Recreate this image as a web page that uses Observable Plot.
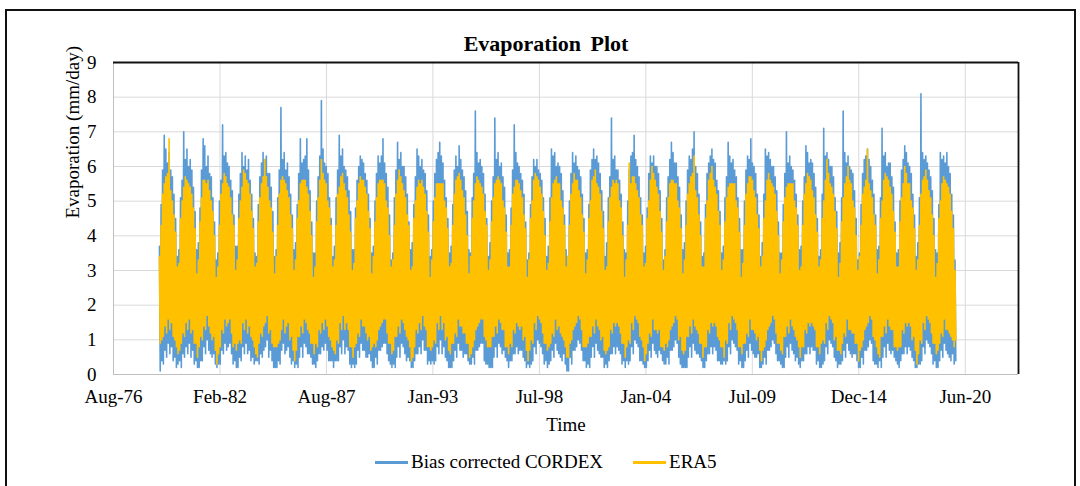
<!DOCTYPE html>
<html>
<head>
<meta charset="utf-8">
<script src="https://cdn.jsdelivr.net/npm/d3@7"></script>
<script src="https://cdn.jsdelivr.net/npm/@observablehq/plot@0.6"></script>
<style>
  body { margin: 0; background: #fff; }
  #frame { position: relative; width: 1080px; height: 486px; overflow: hidden; background: #fff;
           font-family: "Liberation Serif", "Times New Roman", serif; color: #000; }
  #chart { position: absolute; left: 0; top: 0; }
  #border { position: absolute; left: 5px; top: 9px; width: 1071px; height: 500px;
            border: 2.5px solid #111; box-sizing: border-box; pointer-events: none; }
  #title { position: absolute; left: 396px; width: 300px; top: 31px; line-height: 26px;
           text-align: center; font-weight: bold; font-size: 22px; word-spacing: 4px; }
  #legend { position: absolute; left: 375px; top: 450px; height: 24px; display: flex;
            align-items: center; font-size: 19px; }
  .sw { display: inline-block; width: 33px; height: 3px; margin-right: 3px; }
  .item { display: flex; align-items: center; margin-right: 30px; }
</style>
</head>
<body>
<div id="frame">
  <div id="chart"></div>
  <div id="title">Evaporation Plot</div>
  <div id="legend">
    <div class="item"><span class="sw" style="background:#5B9BD5"></span>Bias corrected CORDEX</div>
    <div class="item"><span class="sw" style="background:#FFC000"></span>ERA5</div>
  </div>
  <div id="border"></div>
</div>
<script>
// Daily evaporation summarised per month: highest and lowest day of each month,
// one row per year from 1979 to 2019 (Jan..Dec), in mm/day.
const startYear = 1979;

const cordexHigh = [
  3.7, 4.9, 5.9, 6.9, 6.5, 6.1, 6.4, 5.9, 5.7, 5.2, 4.5, 3.4, // 1979
  3.6, 5.1, 5.6, 7.0, 6.2, 6.5, 6.0, 6.2, 5.9, 5.4, 4.7, 3.6, // 1980
  3.8, 4.8, 5.9, 6.8, 6.6, 6.0, 6.3, 5.8, 5.7, 5.1, 4.4, 3.3, // 1981
  3.5, 5.0, 5.6, 7.2, 6.3, 6.4, 6.1, 6.0, 5.6, 5.3, 4.6, 3.7, // 1982
  3.7, 5.2, 5.8, 6.4, 6.0, 6.3, 5.9, 6.2, 5.6, 5.2, 4.5, 3.5, // 1983
  3.4, 4.9, 5.7, 6.1, 6.4, 6.2, 6.3, 5.8, 5.8, 5.4, 4.7, 3.4, // 1984
  3.6, 5.1, 5.9, 7.7, 6.2, 6.4, 5.9, 6.1, 5.7, 5.2, 4.6, 3.6, // 1985
  3.8, 4.9, 5.8, 6.8, 6.1, 6.2, 6.3, 6.8, 5.9, 5.3, 4.4, 3.5, // 1986
  3.5, 5.0, 5.7, 6.3, 7.9, 6.5, 6.1, 6.0, 5.8, 5.1, 4.5, 3.4, // 1987
  3.7, 5.1, 5.9, 6.9, 6.3, 6.5, 6.0, 5.9, 5.7, 5.3, 4.7, 3.6, // 1988
  3.6, 4.8, 5.6, 6.0, 6.3, 6.2, 6.1, 5.8, 5.6, 5.2, 4.5, 3.5, // 1989
  3.7, 5.0, 5.8, 6.3, 6.1, 6.3, 6.8, 6.1, 5.8, 5.4, 4.6, 3.3, // 1990
  3.5, 5.1, 5.9, 6.7, 6.2, 6.4, 6.0, 6.0, 5.7, 5.2, 4.4, 3.6, // 1991
  3.8, 4.9, 5.7, 6.5, 6.3, 6.0, 6.2, 5.9, 5.8, 5.3, 4.6, 3.4, // 1992
  3.6, 5.0, 5.8, 6.2, 6.4, 6.7, 6.3, 6.1, 5.6, 5.1, 4.5, 3.5, // 1993
  3.7, 4.9, 5.9, 6.3, 6.0, 6.6, 6.2, 5.9, 5.7, 5.3, 4.7, 3.6, // 1994
  3.5, 5.1, 5.8, 7.6, 6.4, 6.1, 6.2, 6.0, 5.8, 5.2, 4.5, 3.4, // 1995
  3.8, 5.0, 5.7, 7.4, 6.2, 6.4, 6.0, 6.1, 5.7, 5.4, 4.6, 3.5, // 1996
  3.6, 4.8, 5.9, 7.2, 6.4, 6.1, 6.0, 5.8, 5.6, 5.2, 4.4, 3.3, // 1997
  3.5, 4.9, 5.7, 6.2, 6.0, 6.2, 5.9, 5.8, 5.6, 5.1, 4.5, 3.4, // 1998
  3.7, 5.1, 6.5, 6.3, 6.4, 6.0, 6.1, 6.0, 5.8, 5.3, 4.6, 3.6, // 1999
  3.4, 5.0, 5.8, 6.4, 6.1, 6.3, 6.0, 5.9, 5.7, 5.2, 4.5, 3.5, // 2000
  3.6, 4.9, 5.9, 6.2, 6.5, 6.2, 6.3, 6.1, 5.8, 5.3, 4.7, 3.4, // 2001
  3.8, 5.1, 5.7, 7.4, 6.2, 6.3, 5.9, 5.9, 5.6, 5.2, 4.4, 3.6, // 2002
  3.5, 5.0, 5.9, 6.3, 6.4, 6.9, 6.2, 6.0, 5.7, 5.1, 4.6, 3.5, // 2003
  3.7, 4.8, 5.8, 6.3, 6.1, 6.3, 6.0, 6.0, 5.8, 5.3, 4.5, 3.3, // 2004
  3.6, 5.1, 5.7, 6.2, 6.7, 6.4, 6.1, 6.1, 5.7, 5.4, 4.6, 3.6, // 2005
  3.8, 5.0, 5.9, 6.3, 6.2, 6.5, 7.0, 6.0, 5.8, 5.2, 4.4, 3.4, // 2006
  3.5, 4.9, 5.8, 6.1, 6.3, 6.5, 6.2, 6.1, 5.6, 5.3, 4.7, 3.5, // 2007
  3.7, 5.1, 5.7, 6.7, 6.3, 6.1, 6.2, 5.9, 5.7, 5.1, 4.5, 3.6, // 2008
  3.6, 5.0, 5.9, 6.3, 6.2, 6.8, 6.1, 6.0, 5.8, 5.2, 4.6, 3.4, // 2009
  3.8, 5.2, 6.5, 6.3, 6.4, 6.2, 6.0, 6.0, 5.7, 5.3, 4.4, 3.5, // 2010
  3.5, 4.9, 5.8, 7.0, 6.1, 6.3, 6.0, 5.9, 5.6, 5.2, 4.6, 3.6, // 2011
  3.7, 5.0, 5.7, 6.6, 6.4, 6.1, 6.2, 6.1, 5.8, 5.4, 4.5, 3.4, // 2012
  3.6, 5.2, 7.1, 6.3, 6.4, 6.2, 6.0, 6.0, 5.7, 5.1, 4.7, 3.5, // 2013
  3.8, 5.1, 7.6, 6.4, 6.1, 6.3, 6.0, 5.9, 5.8, 5.3, 4.5, 3.3, // 2014
  3.5, 4.9, 5.8, 6.2, 6.3, 6.5, 6.2, 6.0, 5.6, 5.2, 4.6, 3.6, // 2015
  3.7, 5.1, 7.1, 6.3, 6.4, 6.0, 6.1, 6.1, 5.7, 5.4, 4.4, 3.5, // 2016
  3.6, 5.0, 5.9, 6.2, 6.6, 6.4, 6.1, 6.0, 5.8, 5.2, 4.6, 3.4, // 2017
  3.8, 5.1, 8.1, 6.4, 6.2, 6.3, 6.1, 5.9, 5.7, 5.3, 4.5, 3.6, // 2018
  3.5, 4.9, 6.4, 6.2, 6.3, 6.1, 6.4, 6.0, 5.8, 5.2, 4.6, 3.3  // 2019
];

const cordexLow = [
  0.1, 0.4, 0.3, 0.7, 0.5, 0.9, 0.6, 0.8, 0.4, 0.5, 0.2, 0.3, // 1979
  0.4, 0.2, 0.6, 0.5, 0.8, 0.6, 0.9, 0.5, 0.7, 0.3, 0.4, 0.2, // 1980
  0.2, 0.4, 0.4, 0.8, 0.6, 1.0, 0.7, 0.6, 0.5, 0.6, 0.3, 0.2, // 1981
  0.3, 0.3, 0.7, 0.6, 0.9, 0.7, 0.8, 0.9, 0.6, 0.3, 0.4, 0.2, // 1982
  0.2, 0.5, 0.4, 0.8, 0.6, 0.9, 0.6, 0.7, 0.4, 0.5, 0.3, 0.4, // 1983
  0.4, 0.3, 0.6, 0.5, 0.7, 0.8, 1.0, 0.5, 0.7, 0.4, 0.2, 0.2, // 1984
  0.2, 0.4, 0.3, 0.7, 0.9, 0.6, 0.7, 0.8, 0.5, 0.3, 0.4, 0.2, // 1985
  0.3, 0.2, 0.5, 0.8, 0.5, 0.9, 0.8, 0.6, 0.6, 0.5, 0.3, 0.3, // 1986
  0.2, 0.4, 0.6, 0.6, 0.8, 0.7, 0.9, 0.7, 0.4, 0.4, 0.4, 0.2, // 1987
  0.4, 0.4, 0.4, 0.8, 0.6, 1.0, 0.6, 0.8, 0.7, 0.3, 0.2, 0.3, // 1988
  0.2, 0.3, 0.7, 0.5, 0.9, 0.7, 0.7, 0.5, 0.5, 0.6, 0.4, 0.2, // 1989
  0.2, 0.5, 0.3, 0.7, 0.7, 0.8, 0.9, 0.9, 0.6, 0.4, 0.3, 0.2, // 1990
  0.3, 0.2, 0.5, 0.8, 0.5, 0.9, 0.8, 0.6, 0.4, 0.5, 0.4, 0.2, // 1991
  0.2, 0.4, 0.6, 0.6, 0.8, 0.6, 1.0, 0.7, 0.7, 0.3, 0.4, 0.3, // 1992
  0.4, 0.3, 0.4, 0.8, 0.6, 1.0, 0.6, 0.8, 0.5, 0.4, 0.2, 0.2, // 1993
  0.2, 0.4, 0.7, 0.5, 0.9, 0.7, 0.7, 0.5, 0.6, 0.6, 0.4, 0.3, // 1994
  0.3, 0.5, 0.3, 0.7, 0.7, 0.8, 0.9, 0.9, 0.4, 0.3, 0.3, 0.2, // 1995
  0.2, 0.2, 0.5, 0.8, 0.5, 0.9, 0.8, 0.6, 0.7, 0.5, 0.4, 0.2, // 1996
  0.4, 0.4, 0.6, 0.6, 0.8, 0.6, 0.7, 0.7, 0.5, 0.4, 0.2, 0.3, // 1997
  0.2, 0.3, 0.4, 0.8, 0.6, 1.0, 0.9, 0.8, 0.6, 0.3, 0.4, 0.2, // 1998
  0.3, 0.4, 0.7, 0.5, 0.9, 0.7, 0.6, 0.5, 0.4, 0.6, 0.3, 0.1, // 1999
  0.1, 0.5, 0.3, 0.7, 0.7, 0.8, 1.0, 0.9, 0.7, 0.4, 0.4, 0.2, // 2000
  0.3, 0.2, 0.5, 0.8, 0.5, 0.9, 0.7, 0.6, 0.5, 0.5, 0.2, 0.3, // 2001
  0.2, 0.4, 0.6, 0.6, 0.8, 0.6, 0.8, 0.7, 0.6, 0.3, 0.4, 0.2, // 2002
  0.4, 0.3, 0.4, 0.8, 0.6, 1.0, 0.9, 0.8, 0.4, 0.4, 0.3, 0.2, // 2003
  0.2, 0.4, 0.7, 0.5, 0.9, 0.7, 0.6, 0.5, 0.7, 0.6, 0.4, 0.3, // 2004
  0.3, 0.5, 0.3, 0.7, 0.7, 0.8, 1.0, 0.9, 0.5, 0.3, 0.2, 0.2, // 2005
  0.2, 0.2, 0.5, 0.8, 0.5, 0.9, 0.7, 0.6, 0.6, 0.5, 0.4, 0.2, // 2006
  0.2, 0.4, 0.6, 0.6, 0.8, 0.6, 0.8, 0.7, 0.4, 0.4, 0.3, 0.3, // 2007
  0.4, 0.3, 0.4, 0.8, 0.6, 1.0, 0.9, 0.8, 0.7, 0.3, 0.4, 0.2, // 2008
  0.2, 0.4, 0.7, 0.5, 0.9, 0.7, 0.6, 0.5, 0.5, 0.6, 0.2, 0.2, // 2009
  0.3, 0.5, 0.3, 0.7, 0.7, 0.8, 1.0, 0.9, 0.6, 0.4, 0.4, 0.3, // 2010
  0.2, 0.2, 0.5, 0.8, 0.5, 0.9, 0.7, 0.6, 0.4, 0.5, 0.3, 0.2, // 2011
  0.4, 0.4, 0.6, 0.6, 0.8, 0.6, 0.8, 0.7, 0.7, 0.3, 0.4, 0.2, // 2012
  0.2, 0.3, 0.4, 0.8, 0.6, 1.0, 0.9, 0.8, 0.5, 0.4, 0.2, 0.3, // 2013
  0.3, 0.4, 0.7, 0.5, 0.9, 0.7, 0.6, 0.5, 0.6, 0.6, 0.4, 0.2, // 2014
  0.2, 0.5, 0.3, 0.7, 0.7, 0.8, 1.0, 0.9, 0.4, 0.3, 0.3, 0.2, // 2015
  0.4, 0.2, 0.5, 0.8, 0.5, 0.9, 0.7, 0.6, 0.7, 0.5, 0.4, 0.3, // 2016
  0.2, 0.4, 0.6, 0.6, 0.8, 0.6, 0.8, 0.7, 0.5, 0.4, 0.2, 0.2, // 2017
  0.3, 0.3, 0.4, 0.8, 0.6, 1.0, 0.9, 0.8, 0.6, 0.3, 0.4, 0.2, // 2018
  0.2, 0.4, 0.7, 0.5, 0.9, 0.7, 0.6, 0.5, 0.4, 0.6, 0.3, 0.4  // 2019
];

const era5High = [
  3.4, 4.3, 5.2, 5.5, 5.7, 5.8, 6.8, 5.3, 5.0, 4.6, 4.1, 3.1, // 1979
  3.2, 4.5, 5.0, 5.4, 5.7, 5.6, 5.5, 5.4, 5.2, 4.8, 4.2, 2.9, // 1980
  3.3, 4.4, 5.1, 5.6, 5.6, 5.5, 5.6, 5.3, 5.0, 4.7, 4.0, 2.8, // 1981
  3.1, 4.3, 5.2, 5.5, 5.8, 5.7, 5.5, 5.4, 5.1, 4.6, 4.3, 3.0, // 1982
  3.3, 4.5, 5.0, 5.4, 5.9, 5.8, 5.6, 5.5, 5.2, 4.7, 4.2, 3.1, // 1983
  3.2, 4.4, 5.1, 5.5, 5.7, 6.2, 5.7, 5.4, 5.0, 4.8, 4.1, 2.9, // 1984
  3.4, 4.3, 5.2, 5.6, 5.7, 5.6, 5.5, 5.3, 5.1, 4.6, 4.2, 3.0, // 1985
  3.3, 4.5, 5.0, 5.5, 5.6, 5.6, 5.6, 5.4, 5.2, 4.7, 4.0, 2.8, // 1986
  3.1, 4.4, 5.1, 5.6, 6.2, 5.8, 5.6, 5.5, 5.0, 4.8, 4.3, 3.1, // 1987
  3.3, 4.3, 5.2, 5.4, 5.7, 5.8, 5.5, 5.3, 5.1, 4.6, 4.1, 3.0, // 1988
  3.2, 4.5, 5.0, 5.5, 5.7, 5.6, 5.6, 5.4, 5.2, 4.7, 4.2, 2.9, // 1989
  3.4, 4.4, 5.1, 5.5, 5.6, 5.6, 5.6, 5.5, 5.0, 4.8, 4.0, 3.1, // 1990
  3.3, 4.3, 5.2, 5.6, 5.9, 5.7, 5.5, 5.3, 5.1, 4.6, 4.3, 3.0, // 1991
  3.1, 4.5, 5.0, 5.4, 5.6, 5.5, 5.6, 5.4, 5.2, 4.7, 4.1, 2.8, // 1992
  3.3, 4.4, 5.1, 5.5, 5.5, 5.5, 5.5, 5.5, 5.0, 4.8, 4.2, 3.1, // 1993
  3.2, 4.3, 5.2, 5.6, 5.7, 5.8, 5.6, 5.3, 5.1, 4.6, 4.0, 2.9, // 1994
  3.4, 4.5, 5.0, 5.5, 5.7, 5.6, 5.5, 5.4, 5.2, 4.7, 4.3, 3.0, // 1995
  3.3, 4.4, 5.1, 5.5, 5.6, 5.7, 5.6, 5.5, 5.0, 4.8, 4.1, 3.1, // 1996
  3.1, 4.3, 5.2, 5.4, 5.6, 5.6, 5.5, 5.3, 5.1, 4.6, 4.2, 2.8, // 1997
  3.3, 4.5, 5.0, 5.6, 5.8, 5.7, 5.6, 5.4, 5.2, 4.7, 4.0, 3.0, // 1998
  3.2, 4.4, 5.1, 5.5, 5.6, 5.7, 5.5, 5.5, 5.0, 4.8, 4.3, 3.1, // 1999
  3.4, 4.3, 5.2, 5.5, 5.8, 5.6, 5.6, 5.3, 5.1, 4.6, 4.1, 2.9, // 2000
  3.3, 4.5, 5.0, 5.6, 5.7, 5.9, 5.5, 5.4, 5.2, 4.7, 4.2, 3.0, // 2001
  3.1, 4.4, 5.1, 5.4, 5.6, 5.5, 5.6, 5.5, 5.0, 4.8, 4.0, 2.8, // 2002
  3.3, 4.3, 6.1, 5.5, 5.7, 5.7, 5.5, 5.3, 5.1, 4.6, 4.3, 3.1, // 2003
  3.2, 4.5, 5.0, 5.6, 6.0, 5.8, 5.6, 5.4, 5.2, 4.7, 4.1, 3.0, // 2004
  3.4, 4.4, 5.1, 5.5, 5.6, 5.6, 5.5, 5.5, 5.0, 4.8, 4.2, 2.9, // 2005
  3.3, 4.3, 5.2, 5.5, 5.7, 5.8, 6.3, 5.3, 5.1, 4.6, 4.0, 3.1, // 2006
  3.1, 4.5, 5.0, 5.6, 5.8, 6.0, 5.6, 5.4, 5.2, 4.7, 4.3, 3.0, // 2007
  3.3, 4.4, 5.1, 5.4, 5.5, 5.5, 5.5, 5.5, 5.0, 4.8, 4.1, 2.8, // 2008
  3.2, 4.3, 5.2, 5.5, 5.7, 5.7, 5.6, 5.3, 5.1, 4.6, 4.2, 3.1, // 2009
  3.4, 4.5, 5.0, 5.6, 5.8, 5.6, 5.5, 5.4, 5.2, 4.7, 4.0, 2.9, // 2010
  3.3, 4.4, 5.1, 5.4, 5.5, 5.5, 5.5, 5.5, 5.0, 4.8, 4.3, 3.0, // 2011
  3.1, 4.3, 5.2, 5.5, 5.8, 5.7, 5.6, 5.3, 5.1, 4.6, 4.1, 3.1, // 2012
  3.3, 4.5, 5.0, 5.6, 6.2, 5.8, 5.5, 5.4, 5.2, 4.7, 4.2, 2.8, // 2013
  3.2, 4.4, 5.1, 5.5, 5.7, 6.0, 5.6, 5.5, 5.0, 4.8, 4.0, 3.0, // 2014
  3.4, 4.3, 5.2, 5.4, 5.6, 6.5, 5.5, 5.3, 5.1, 4.6, 4.3, 2.9, // 2015
  3.3, 4.5, 5.0, 5.6, 5.8, 5.7, 5.6, 5.4, 5.2, 4.7, 4.1, 3.1, // 2016
  3.1, 4.4, 5.1, 5.5, 6.0, 5.8, 5.5, 5.5, 5.0, 4.8, 4.2, 3.0, // 2017
  3.3, 4.3, 5.2, 5.6, 5.7, 5.9, 5.6, 5.3, 5.1, 4.6, 4.0, 2.8, // 2018
  3.2, 4.5, 5.0, 5.5, 5.7, 5.6, 5.5, 5.4, 5.2, 4.7, 4.2, 3.0  // 2019
];

const era5Low = [
  0.9, 1.0, 1.1, 1.4, 1.2, 1.6, 1.3, 1.5, 1.1, 1.0, 0.8, 0.6, // 1979
  0.7, 0.9, 1.2, 1.1, 1.5, 1.3, 1.6, 1.2, 1.3, 0.9, 0.9, 0.5, // 1980
  0.8, 1.1, 1.0, 1.4, 1.3, 1.7, 1.4, 1.2, 1.0, 1.1, 0.7, 0.3, // 1981
  0.6, 0.8, 1.3, 1.2, 1.6, 1.4, 1.5, 1.6, 1.2, 0.8, 0.9, 0.7, // 1982
  0.9, 1.0, 0.9, 1.5, 1.3, 1.6, 1.2, 1.4, 1.1, 1.0, 0.8, 0.6, // 1983
  0.5, 0.9, 1.2, 1.1, 1.4, 1.5, 1.7, 1.2, 1.3, 0.9, 0.8, 0.8, // 1984
  0.8, 0.9, 1.0, 1.3, 1.6, 1.2, 1.4, 1.5, 1.0, 1.1, 0.7, 0.4, // 1985
  0.7, 1.1, 1.1, 1.4, 1.2, 1.6, 1.5, 1.3, 1.2, 0.9, 0.9, 0.6, // 1986
  0.9, 0.8, 1.3, 1.2, 1.5, 1.3, 1.6, 1.4, 1.1, 1.0, 0.8, 0.7, // 1987
  0.6, 1.0, 0.9, 1.5, 1.3, 1.7, 1.3, 1.5, 1.3, 0.8, 0.8, 0.5, // 1988
  0.8, 0.9, 1.2, 1.1, 1.6, 1.4, 1.4, 1.2, 1.0, 1.1, 0.7, 0.8, // 1989
  0.9, 0.8, 1.0, 1.3, 1.4, 1.5, 1.6, 1.6, 1.2, 0.9, 0.9, 0.6, // 1990
  0.7, 1.1, 1.1, 1.4, 1.2, 1.6, 1.5, 1.3, 1.1, 1.0, 0.8, 0.4, // 1991
  0.5, 0.8, 1.3, 1.2, 1.5, 1.3, 1.7, 1.4, 1.3, 0.8, 0.8, 0.7, // 1992
  0.8, 1.0, 0.9, 1.5, 1.3, 1.7, 1.3, 1.5, 1.0, 1.1, 0.7, 0.6, // 1993
  0.9, 0.9, 1.2, 1.1, 1.6, 1.4, 1.4, 1.2, 1.2, 0.9, 0.9, 0.5, // 1994
  0.6, 0.8, 1.0, 1.3, 1.4, 1.5, 1.6, 1.6, 1.1, 1.0, 0.8, 0.8, // 1995
  0.8, 1.1, 1.1, 1.4, 1.2, 1.6, 1.5, 1.3, 1.3, 0.8, 0.8, 0.6, // 1996
  0.9, 0.8, 1.3, 1.2, 1.5, 1.4, 1.3, 1.4, 1.0, 1.1, 0.7, 0.4, // 1997
  0.7, 1.0, 0.9, 1.5, 1.3, 1.7, 1.6, 1.5, 1.2, 0.9, 0.9, 0.7, // 1998
  0.8, 0.9, 1.2, 1.1, 1.6, 1.3, 1.4, 1.2, 1.1, 1.0, 0.8, 0.5, // 1999
  0.5, 0.9, 1.0, 1.3, 1.4, 1.5, 1.7, 1.6, 1.3, 0.8, 0.8, 0.8, // 2000
  0.9, 1.1, 1.1, 1.4, 1.2, 1.6, 1.4, 1.3, 1.0, 1.1, 0.7, 0.6, // 2001
  0.7, 0.8, 1.3, 1.2, 1.5, 1.4, 1.5, 1.4, 1.2, 0.9, 0.9, 0.5, // 2002
  0.8, 1.0, 0.9, 1.5, 1.3, 1.7, 1.6, 1.5, 1.1, 1.0, 0.8, 0.4, // 2003
  0.6, 0.9, 1.2, 1.1, 1.6, 1.3, 1.3, 1.2, 1.3, 0.8, 0.8, 0.7, // 2004
  0.9, 0.8, 1.0, 1.3, 1.4, 1.5, 1.7, 1.6, 1.0, 1.1, 0.7, 0.6, // 2005
  0.7, 1.1, 1.1, 1.4, 1.2, 1.6, 1.4, 1.3, 1.2, 0.9, 0.9, 0.5, // 2006
  0.8, 0.8, 1.3, 1.2, 1.5, 1.4, 1.5, 1.4, 1.1, 1.0, 0.8, 0.8, // 2007
  0.5, 1.0, 0.9, 1.5, 1.3, 1.7, 1.6, 1.5, 1.3, 0.8, 0.8, 0.6, // 2008
  0.9, 0.9, 1.2, 1.1, 1.6, 1.3, 1.3, 1.2, 1.0, 1.1, 0.7, 0.4, // 2009
  0.7, 0.8, 1.0, 1.3, 1.4, 1.5, 1.7, 1.6, 1.2, 0.9, 0.9, 0.7, // 2010
  0.6, 1.1, 1.1, 1.4, 1.2, 1.6, 1.4, 1.3, 1.1, 1.0, 0.8, 0.5, // 2011
  0.8, 0.8, 1.3, 1.2, 1.5, 1.4, 1.5, 1.4, 1.3, 0.8, 0.8, 0.6, // 2012
  0.9, 1.0, 0.9, 1.5, 1.3, 1.7, 1.6, 1.5, 1.0, 1.1, 0.7, 0.7, // 2013
  0.6, 0.9, 1.2, 1.1, 1.6, 1.3, 1.3, 1.2, 1.2, 0.9, 0.9, 0.4, // 2014
  0.7, 0.8, 1.0, 1.3, 1.4, 1.5, 1.7, 1.6, 1.1, 1.0, 0.8, 0.6, // 2015
  0.5, 1.1, 1.1, 1.4, 1.2, 1.6, 1.4, 1.3, 1.3, 0.8, 0.8, 0.7, // 2016
  0.8, 0.8, 1.3, 1.2, 1.5, 1.4, 1.5, 1.4, 1.0, 1.1, 0.7, 0.3, // 2017
  0.6, 1.0, 0.9, 1.5, 1.3, 1.7, 1.6, 1.5, 1.2, 0.9, 0.9, 0.6, // 2018
  0.7, 0.9, 1.2, 1.1, 1.6, 1.3, 1.3, 1.2, 1.1, 1.0, 0.8, 1.0  // 2019
];

// Date axis: 2000-day steps, labelled month-year
const axisStart = "1976-08-28";
const axisEnd = "2023-03-15";
const tickDays = ["1976-08-28", "1982-02-18", "1987-08-11", "1993-01-31", "1998-07-24",
                  "2004-01-14", "2009-07-06", "2014-12-27", "2020-06-18"];
const tickLabels = ["Aug-76", "Feb-82", "Aug-87", "Jan-93", "Jul-98",
                    "Jan-04", "Jul-09", "Dec-14", "Jun-20"];
const yTicks = [0, 1, 2, 3, 4, 5, 6, 7, 8, 9];

const seriesColors = ["#5B9BD5", "#FFC000"];

// Each month contributes its high day then its low day, so the line sweeps the daily range.
function monthlyTrace(high, low) {
  const pts = [];
  high.forEach((h, k) => {
    const yr = startYear + Math.floor(k / 12), m = k % 12;
    pts.push({ date: new Date(Date.UTC(yr, m, 8)), value: h });
    pts.push({ date: new Date(Date.UTC(yr, m, 23)), value: low[k] });
  });
  return pts;
}

const cordex = monthlyTrace(cordexHigh, cordexLow);
const era5 = monthlyTrace(era5High, era5Low);

const x0 = new Date(axisStart), x1 = new Date(axisEnd);
const tickDates = tickDays.map(s => new Date(s));
const fmtTick = d => tickLabels[tickDates.findIndex(t => +t === +d)];

const chart = Plot.plot({
  width: 1080,
  height: 486,
  marginLeft: 113,
  marginRight: 62,
  marginTop: 62,
  marginBottom: 112,
  style: { fontFamily: '"Liberation Serif", "Times New Roman", serif', fontSize: "19px",
           color: "#000", background: "transparent", overflow: "visible" },
  x: { type: "utc", domain: [x0, x1] },
  y: { domain: [0, 9] },
  marks: [
    Plot.gridY(yTicks, { stroke: "#d9d9d9", strokeOpacity: 1, strokeWidth: 1 }),
    Plot.gridX(tickDates, { stroke: "#d9d9d9", strokeOpacity: 1, strokeWidth: 1 }),
    Plot.line(cordex, { x: "date", y: "value", stroke: seriesColors[0], strokeWidth: 1.6 }),
    Plot.line(era5, { x: "date", y: "value", stroke: seriesColors[1], strokeWidth: 1.6 }),
    Plot.ruleY([0], { stroke: "#bfbfbf", strokeWidth: 1 }),
    Plot.ruleX([x0], { stroke: "#bfbfbf", strokeWidth: 1 }),
    Plot.ruleY([9], { stroke: "#111", strokeWidth: 1.8 }),
    Plot.ruleX([x1], { stroke: "#111", strokeWidth: 1.8 }),
    Plot.axisX(tickDates, { tickSize: 0, tickPadding: 15, tickFormat: fmtTick, label: null, fontSize: 19 }),
    Plot.axisY(yTicks, { tickSize: 0, tickPadding: 17, label: null, fontSize: 19 }),
    Plot.text(["Evaporation (mm/day)"], { frameAnchor: "left", dx: -41, rotate: -90, fontSize: 19 }),
    Plot.text(["Time"], { frameAnchor: "bottom", dy: 56, fontSize: 19 })
  ]
});

document.getElementById("chart").appendChild(chart);
</script>
</body>
</html>
